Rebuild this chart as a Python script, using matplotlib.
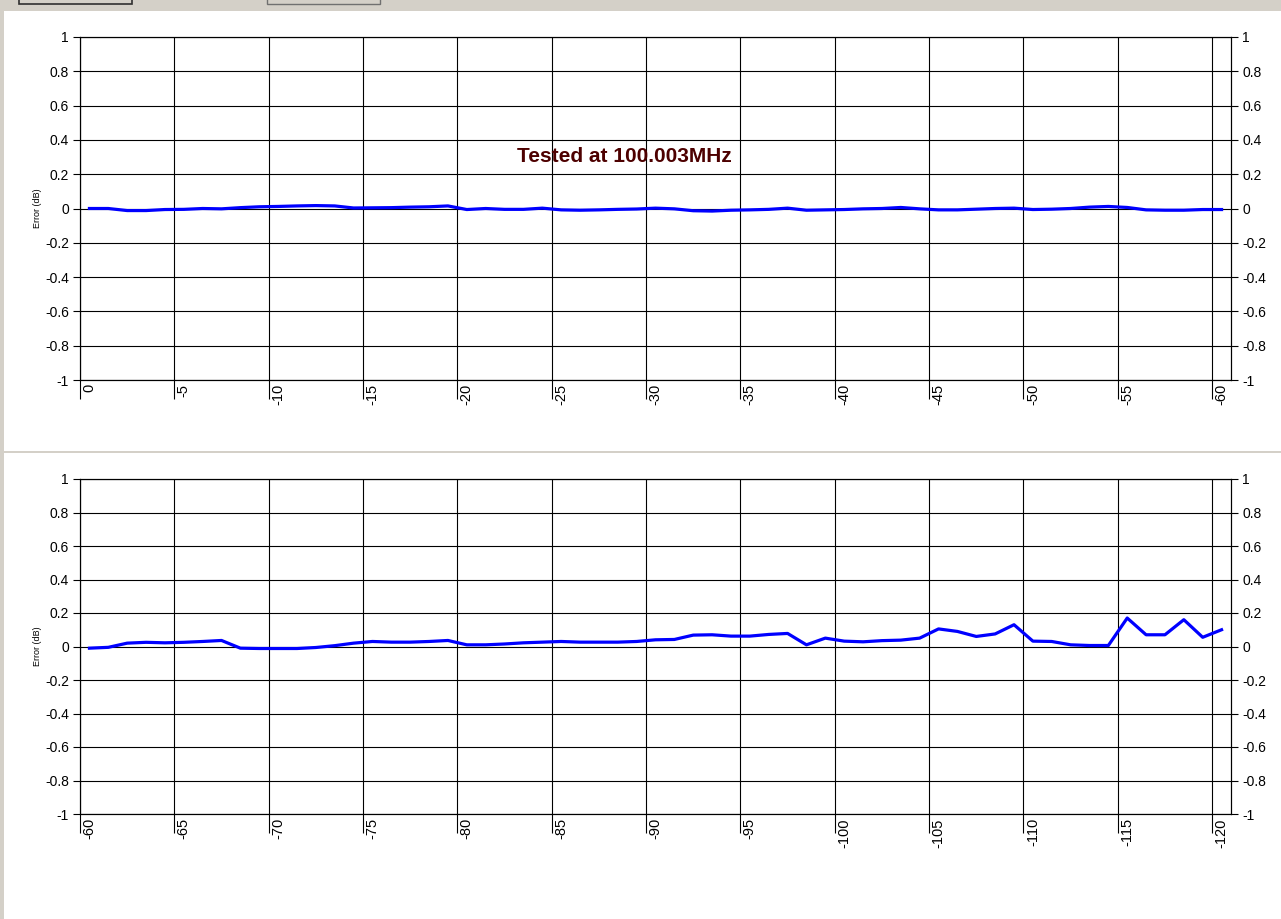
import numpy as np
import matplotlib
matplotlib.use("Agg")
from matplotlib import pyplot as plt
from matplotlib.patches import Rectangle

plt.rcParams['font.family'] = ['Liberation Sans', 'DejaVu Sans']

level_top = list(range(0, -61, -1))
err_top = [0.0, 0.0, -0.012, -0.012, -0.006, -0.005, 0.0, -0.002, 0.005, 0.01,
           0.012, 0.015, 0.017, 0.015, 0.003, 0.004, 0.005, 0.008, 0.01, 0.015,
           -0.006, 0.0, -0.005, -0.005, 0.002, -0.008, -0.01, -0.008, -0.005, -0.003,
           0.002, -0.002, -0.013, -0.015, -0.01, -0.008, -0.005, 0.002, -0.01, -0.008,
           -0.006, -0.002, 0.0, 0.006, -0.002, -0.008, -0.008, -0.004, 0.0, 0.002,
           -0.006, -0.004, 0.0, 0.008, 0.012, 0.006, -0.008, -0.01, -0.01, -0.006,
           -0.006]

level_bottom = list(range(-60, -121, -1))
err_bottom = [-0.01, -0.005, 0.02, 0.025, 0.022, 0.025, 0.03, 0.036, -0.01, -0.012,
              -0.012, -0.012, -0.006, 0.005, 0.02, 0.03, 0.026, 0.026, 0.03, 0.036,
              0.01, 0.01, 0.015, 0.022, 0.026, 0.03, 0.026, 0.026, 0.026, 0.03,
              0.04, 0.042, 0.068, 0.07, 0.062, 0.062, 0.072, 0.078, 0.01, 0.05,
              0.032, 0.028, 0.035, 0.038, 0.05, 0.105, 0.09, 0.06, 0.075, 0.13,
              0.032, 0.03, 0.01, 0.006, 0.006, 0.17, 0.07, 0.07, 0.16, 0.055,
              0.1]

y_ticks = [-1, -0.8, -0.6, -0.4, -0.2, 0, 0.2, 0.4, 0.6, 0.8, 1]
y_labels = ["-1", "-0.8", "-0.6", "-0.4", "-0.2", "0", "0.2", "0.4", "0.6", "0.8", "1"]
title_text = "Tested at 100.003MHz"
y_name = "Error (dB)"

W, H = 1281, 919
fig = plt.figure(figsize=(W / 100, H / 100), dpi=100, facecolor='#d4d0c8')

# white chart areas and the two toolbar buttons of the screenshot
fig.patches.append(Rectangle((4 / W, 1 - 451 / H), 1, 440 / H, transform=fig.transFigure,
                             facecolor='white', edgecolor='none', zorder=-10))
fig.patches.append(Rectangle((4 / W, 0), 1, 1 - 453 / H, transform=fig.transFigure,
                             facecolor='white', edgecolor='none', zorder=-10))
fig.patches.append(Rectangle((19 / W, 1 - 4 / H), 113 / W, 10 / H, transform=fig.transFigure,
                             facecolor='#d4d0c8', edgecolor='#303030', lw=1.2, zorder=-5))
fig.patches.append(Rectangle((267 / W, 1 - 4 / H), 113 / W, 10 / H, transform=fig.transFigure,
                             facecolor='#d4d0c8', edgecolor='#707070', lw=1.0, zorder=-5))


def draw_panel(rect, levels, errs, ylab_y):
    ax = fig.add_axes(rect)
    idx = np.arange(len(levels))
    ax.plot(idx, errs, color='#0000ff', lw=2.3, zorder=3)
    ax.set_xlim(-0.5, len(levels) - 0.5)
    ax.set_ylim(-1, 1)

    ax.set_yticks(y_ticks)
    ax.set_yticklabels(y_labels)
    ax.tick_params(axis='y', length=5, width=0.8, labelsize=10, pad=3)

    ax.set_xticks(idx[::5])
    ax.set_xticklabels([str(v) for v in levels[::5]])
    ax.set_xticks(idx[::5] - 0.5, minor=True)
    ax.tick_params(axis='x', which='major', length=0, pad=3, labelrotation=90, labelsize=10.5)
    ax.tick_params(axis='x', which='minor', length=14, width=0.8, direction='out')

    ax.grid(which='minor', axis='x', color='black', lw=0.8)
    ax.grid(which='major', axis='y', color='black', lw=0.8)
    ax.set_axisbelow(True)
    for s in ax.spines.values():
        s.set_color('black')
        s.set_linewidth(0.8)

    ax2 = ax.twinx()
    ax2.set_ylim(-1, 1)
    ax2.set_yticks(y_ticks)
    ax2.set_yticklabels(y_labels)
    ax2.tick_params(axis='y', length=5, width=0.8, labelsize=10, pad=3)
    for s in ax2.spines.values():
        s.set_linewidth(0.8)

    fig.text(37 / W, 1 - ylab_y / H, y_name, rotation=90, ha='center', va='center', fontsize=6.5)
    return ax


draw_panel([80 / W, 1 - 380 / H, 1151 / W, 343 / H], level_top, err_top, 208)
draw_panel([80 / W, 1 - 814 / H, 1151 / W, 335 / H], level_bottom, err_bottom, 646)

fig.text(624 / W, 1 - 156 / H, title_text, ha='center', va='center',
         fontsize=15, fontweight='bold', color='#4d0000')

fig.savefig("out.png", dpi=100, facecolor=fig.get_facecolor())
plt.close(fig)
